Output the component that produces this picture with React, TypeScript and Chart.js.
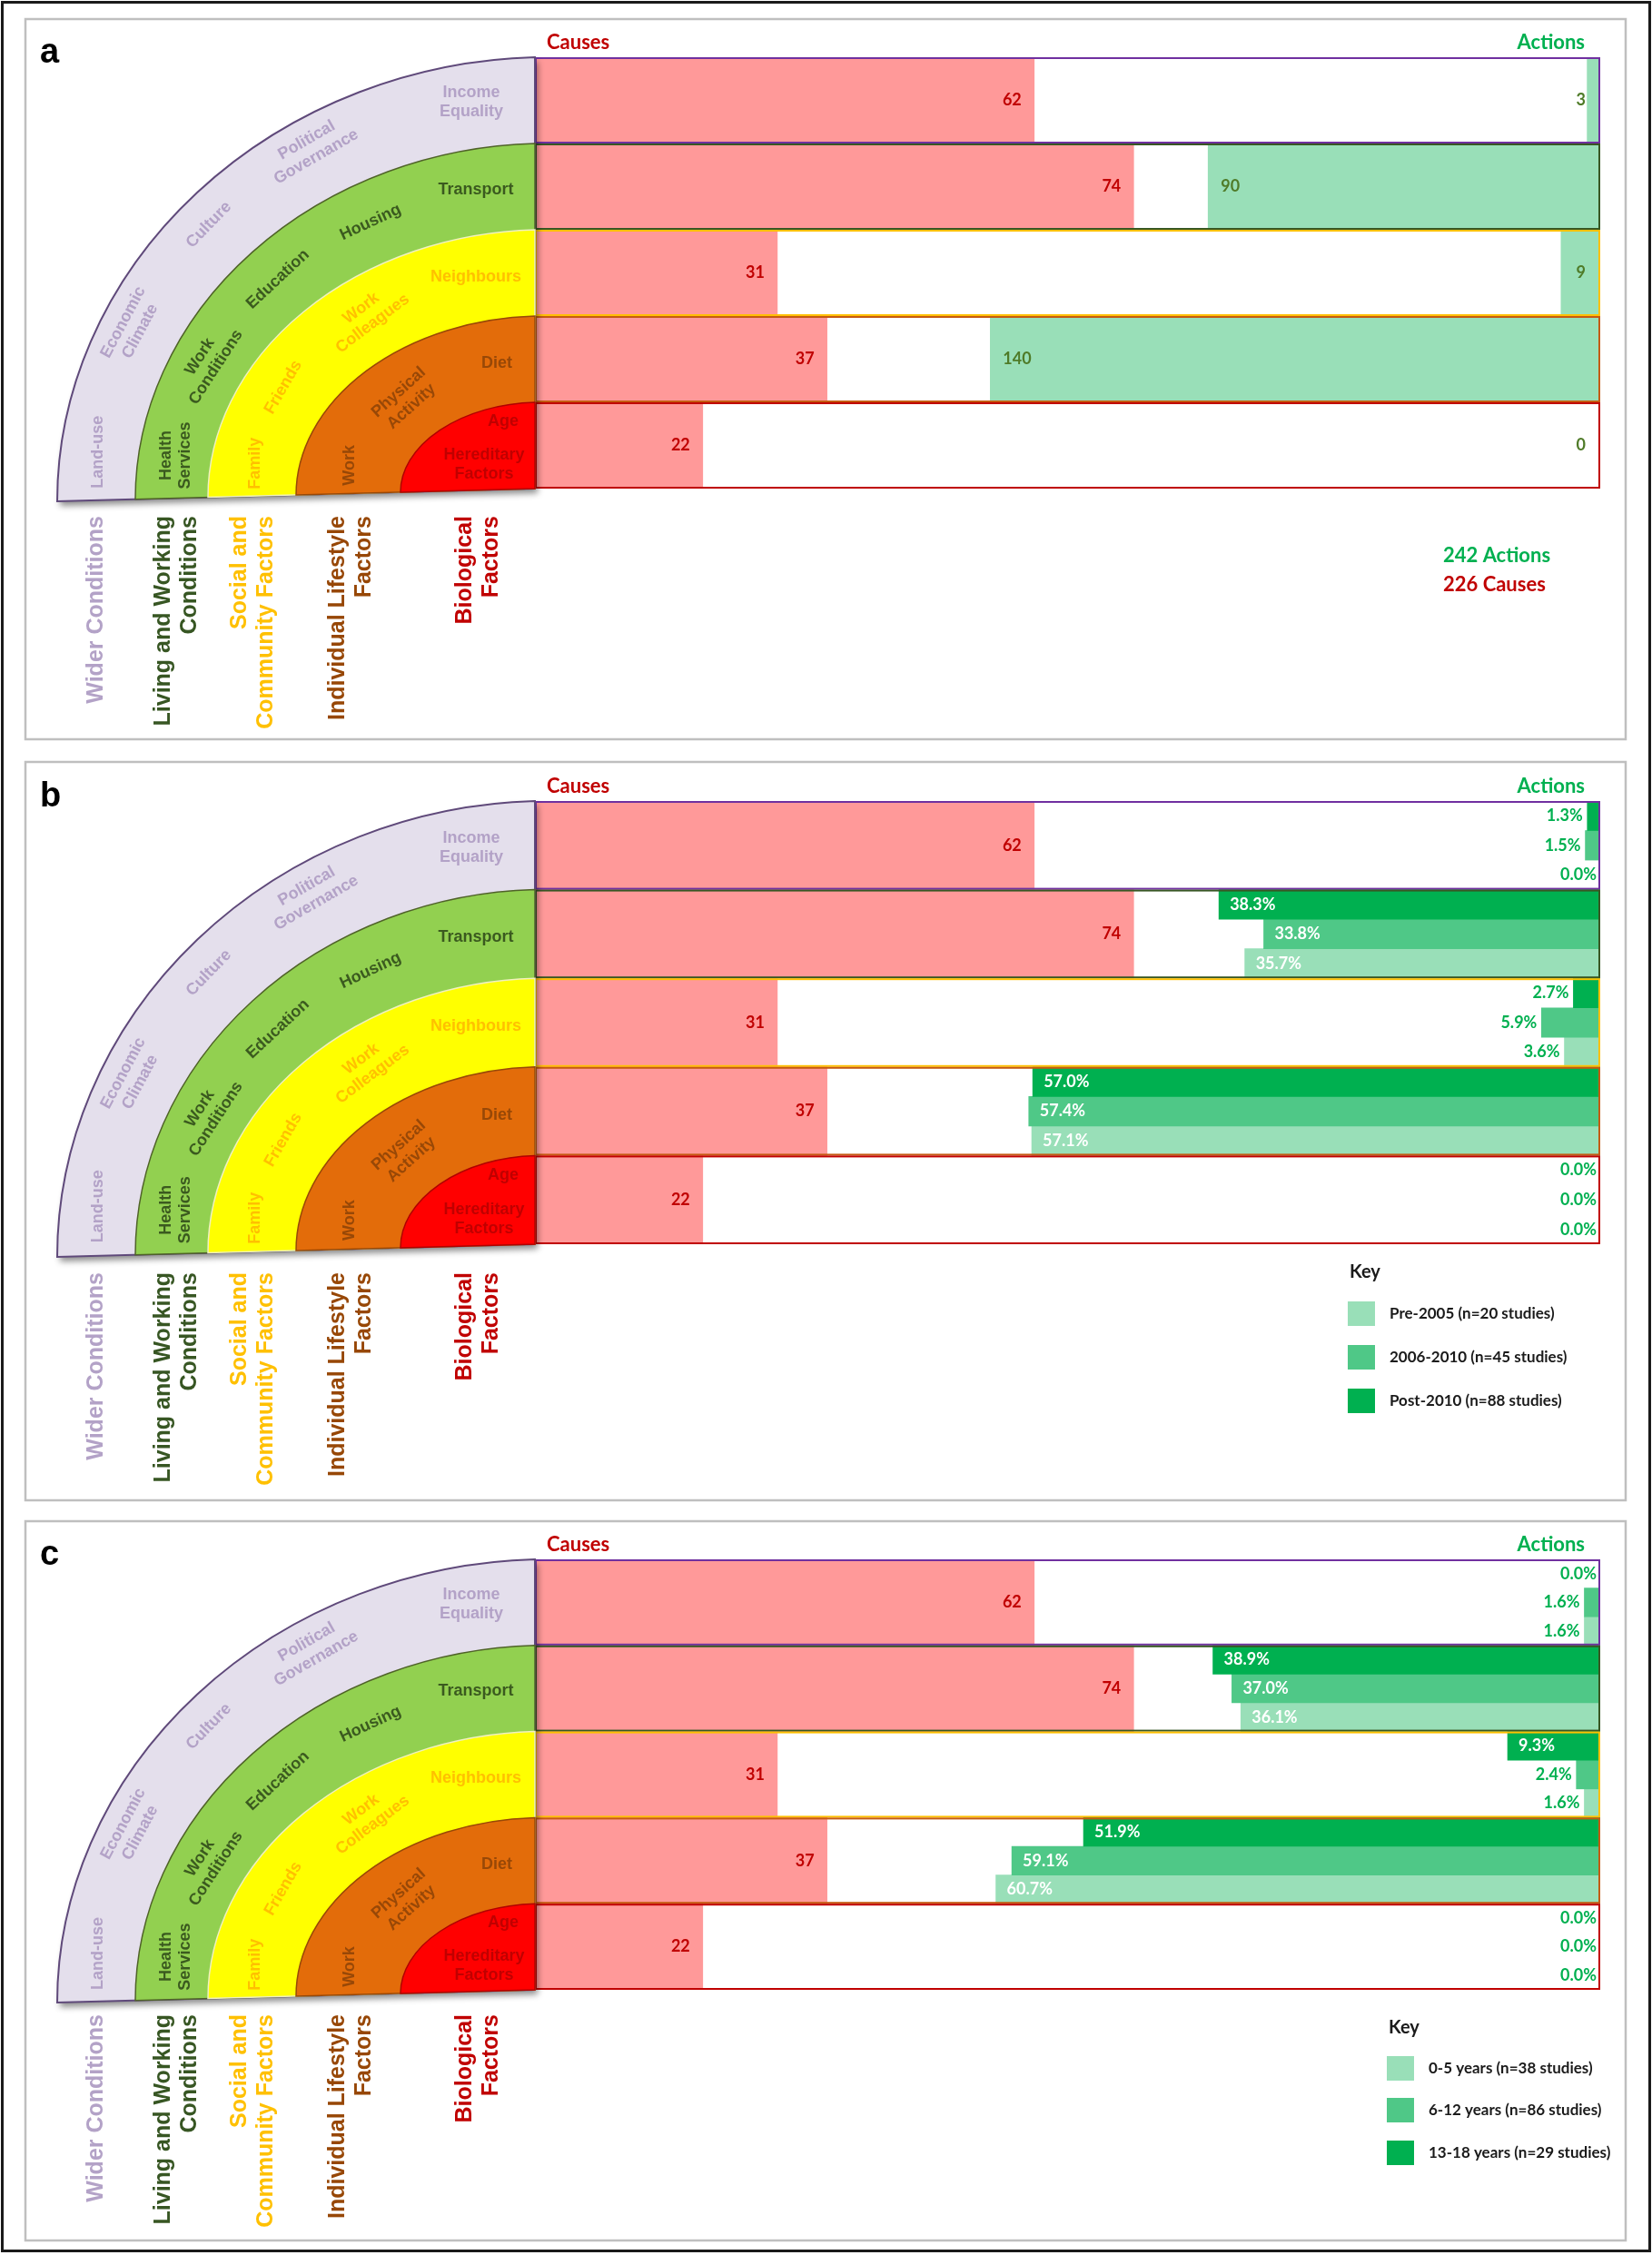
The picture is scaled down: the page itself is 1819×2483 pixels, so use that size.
import React, { useEffect, useRef } from 'react';
import { Chart, registerables } from 'chart.js';

Chart.register(...registerables);

// ---------------- data ----------------
const factorRows = ['Income Equality', 'Transport', 'Neighbours', 'Diet', 'Age / Hereditary Factors'];
const causesCounts = [62, 74, 31, 37, 22];
const actionsCounts = [3, 90, 9, 140, 0];

// panel b: share of actions by publication period (top bar -> bottom bar)
const post2010Pct = [1.3, 38.3, 2.7, 57.0, 0.0];
const y2006to2010Pct = [1.5, 33.8, 5.9, 57.4, 0.0];
const pre2005Pct = [0.0, 35.7, 3.6, 57.1, 0.0];
const periodKeyLabels = ['Pre-2005 (n=20 studies)', '2006-2010 (n=45 studies)', 'Post-2010 (n=88 studies)'];

// panel c: share of actions by age group (top bar -> bottom bar)
const age13to18Pct = [0.0, 38.9, 9.3, 51.9, 0.0];
const age6to12Pct = [1.6, 37.0, 2.4, 59.1, 0.0];
const age0to5Pct = [1.6, 36.1, 1.6, 60.7, 0.0];
const ageKeyLabels = ['0-5 years (n=38 studies)', '6-12 years (n=86 studies)', '13-18 years (n=29 studies)'];

const causesAxisMin = 1.75;
const causesAxisMax = 130.3;
const actionsCountAxisMax = 244.5;
const actionsPctAxisMax = 107;

const layerLabelLines = [
  ['Wider Conditions'],
  ['Living and Working', 'Conditions'],
  ['Social and', 'Community Factors'],
  ['Individual Lifestyle', 'Factors'],
  ['Biological', 'Factors'],
];
const layerLabelX = [106, 180, 264, 372, 512];

const ringTexts = [
  { layer: 0, lines: ['Income', 'Equality'], x: 519, h: 427, a: 0 },
  { layer: 0, lines: ['Political', 'Governance'], x: 343, h: 381, a: -30 },
  { layer: 0, lines: ['Culture'], x: 230, h: 300, a: -46 },
  { layer: 0, lines: ['Economic', 'Climate'], x: 145, h: 190, a: -62 },
  { layer: 0, lines: ['Land-use'], x: 108, h: 53, a: -90 },
  { layer: 1, lines: ['Transport'], x: 524, h: 331, a: 0 },
  { layer: 1, lines: ['Housing'], x: 408, h: 298, a: -25 },
  { layer: 1, lines: ['Education'], x: 306, h: 238, a: -43 },
  { layer: 1, lines: ['Work', 'Conditions'], x: 229, h: 149, a: -57 },
  { layer: 1, lines: ['Health', 'Services'], x: 194, h: 47, a: -90 },
  { layer: 2, lines: ['Neighbours'], x: 524, h: 235, a: 0 },
  { layer: 2, lines: ['Work', 'Colleagues'], x: 404, h: 195, a: -37 },
  { layer: 2, lines: ['Friends'], x: 312, h: 119, a: -60 },
  { layer: 2, lines: ['Family'], x: 281, h: 36, a: -90 },
  { layer: 3, lines: ['Diet'], x: 547, h: 139, a: 0 },
  { layer: 3, lines: ['Physical', 'Activity'], x: 446, h: 102, a: -42 },
  { layer: 3, lines: ['Work'], x: 385, h: 31, a: -90 },
  { layer: 4, lines: ['Age'], x: 554, h: 75, a: 0 },
  { layer: 4, lines: ['Hereditary', 'Factors'], x: 533, h: 28, a: 0 },
];

// ---------------- styles ----------------
const PAGE_W = 1819;
const PAGE_H = 2483;
const CAUSE_COLOR = '#ff9999';
const ACT_DARK = '#00b050';
const ACT_MID = '#4fc887';
const ACT_LIGHT = '#99dfb8';
const ROW_FRAME = ['#7030a0', '#385723', '#ffc000', '#c55a11', '#c00000'];
const RING_RX = [526, 440, 360, 263, 148];
const RING_FILL = ['#e4dfec', '#92d050', '#ffff00', '#e36c0a', '#ff0000'];
const RING_STROKE = ['#5f497a', '#4f6228', '#f0f0c0', '#984807', '#b00000'];
const RING_TEXT = ['#b3a2c7', '#3b5a1f', '#ffc000', '#984807', '#c00000'];
const LAYER_LABEL_COLOR = ['#b3a2c7', '#375623', '#ffc000', '#974706', '#c00000'];
const SHEAR = 14 / 526;
const ARIAL = "'Liberation Sans', Arial, sans-serif";
const CAL = "Lato, 'Open Sans', sans-serif";

type Panel = {
  id: string;
  canvasTop: number;
  canvasH: number;
  box: number[];
  rowsTop: number;
  rowsBottom: number;
  mode: 'counts' | 'split';
  splits?: number[][];
  splitNames?: string[];
  keyLabels?: string[];
  keyX?: number;
  keyTitleY?: number;
  keyTops?: number[];
  labelGap: number;
};

const PANELS: Panel[] = [
  { id: 'a', canvasTop: 0, canvasH: 826, box: [28, 21, 1790, 814], rowsTop: 63, rowsBottom: 538, mode: 'counts', labelGap: 30 },
  {
    id: 'b', canvasTop: 826, canvasH: 837, box: [28, 839, 1790, 1652], rowsTop: 882, rowsBottom: 1370, mode: 'split',
    splits: [post2010Pct, y2006to2010Pct, pre2005Pct], splitNames: ['Post-2010', '2006-2010', 'Pre-2005'],
    keyLabels: periodKeyLabels, keyX: 1484, keyTitleY: 1401, keyTops: [1433, 1481, 1529], labelGap: 31,
  },
  {
    id: 'c', canvasTop: 1663, canvasH: 820, box: [28, 1675, 1790, 2467], rowsTop: 1717, rowsBottom: 2191, mode: 'split',
    splits: [age13to18Pct, age6to12Pct, age0to5Pct], splitNames: ['13-18 years', '6-12 years', '0-5 years'],
    keyLabels: ageKeyLabels, keyX: 1527, keyTitleY: 2233, keyTops: [2264, 2310, 2357], labelGap: 27,
  },
];

const SPLIT_COLORS = [ACT_DARK, ACT_MID, ACT_LIGHT];

function toSlots(vals: number[], slot: number): (number | null)[] {
  const out: (number | null)[] = [];
  vals.forEach((v) => {
    for (let j = 0; j < 3; j++) out.push(j === slot ? v : null);
  });
  return out;
}

function drawLines(ctx: CanvasRenderingContext2D, lines: string[], x: number, y: number, angle: number, color: string, font: string, lh: number, align: CanvasTextAlign = 'center') {
  ctx.save();
  ctx.translate(x, y);
  ctx.rotate((angle * Math.PI) / 180);
  ctx.fillStyle = color;
  ctx.font = font;
  ctx.textAlign = align;
  ctx.textBaseline = 'middle';
  const n = lines.length;
  lines.forEach((l, i) => ctx.fillText(l, 0, (i - (n - 1) / 2) * lh));
  ctx.restore();
}

function buildChart(canvas: HTMLCanvasElement, p: Panel): Chart {
  const off = p.canvasTop;
  const datasets: any[] = [
    {
      label: 'Causes', data: causesCounts, xAxisID: 'xc', yAxisID: 'yc', backgroundColor: CAUSE_COLOR,
      grouped: false, barPercentage: 1, categoryPercentage: 1, borderWidth: 0,
    },
  ];
  if (p.mode === 'counts') {
    datasets.push({
      label: 'Actions', data: actionsCounts, xAxisID: 'xa', yAxisID: 'yc', backgroundColor: ACT_LIGHT,
      grouped: false, barPercentage: 1, categoryPercentage: 1, borderWidth: 0,
    });
  } else {
    (p.splits as number[][]).forEach((vals, slot) => {
      datasets.push({
        label: (p.splitNames as string[])[slot], data: toSlots(vals, slot), xAxisID: 'xa', yAxisID: 'ya',
        backgroundColor: SPLIT_COLORS[slot], grouped: false, barPercentage: 1, categoryPercentage: 1, borderWidth: 0,
      });
    });
  }
  const slotLabels: string[] = [];
  factorRows.forEach((r) => [0, 1, 2].forEach((j) => slotLabels.push(`${r} ${j}`)));

  const decor = {
    id: 'decor',
    afterDatasetsDraw(chart: any) {
      const ctx: CanvasRenderingContext2D = chart.ctx;
      const { left, right, top, bottom } = chart.chartArea;
      const H = bottom - top;
      const rowH = H / factorRows.length;

      // panel frame
      ctx.save();
      ctx.strokeStyle = '#bfbfbf';
      ctx.lineWidth = 2.5;
      ctx.strokeRect(p.box[0], p.box[1] - off, p.box[2] - p.box[0], p.box[3] - p.box[1]);
      ctx.restore();

      // row frames
      ctx.save();
      ctx.lineWidth = 2;
      ROW_FRAME.forEach((c, i) => {
        ctx.strokeStyle = c;
        ctx.strokeRect(left + 1, top + i * rowH + 1, right - left - 2, rowH - 2);
      });
      ctx.restore();

      // rainbow
      const cx = left;
      const by = bottom;
      ctx.save();
      ctx.transform(1, -SHEAR, 0, 1, 0, SHEAR * cx);
      RING_RX.forEach((rx, i) => {
        const ry = (H * (5 - i)) / 5;
        ctx.beginPath();
        ctx.moveTo(cx, by);
        ctx.lineTo(cx - rx, by);
        ctx.ellipse(cx, by, rx, ry, 0, Math.PI, Math.PI * 1.5);
        ctx.closePath();
        if (i === 0) {
          ctx.save();
          ctx.shadowColor = 'rgba(0,0,0,0.45)';
          ctx.shadowBlur = 7;
          ctx.shadowOffsetX = 3;
          ctx.shadowOffsetY = 5;
          ctx.fillStyle = RING_FILL[i];
          ctx.fill();
          ctx.restore();
        } else {
          ctx.fillStyle = RING_FILL[i];
          ctx.fill();
        }
        ctx.strokeStyle = RING_STROKE[i];
        ctx.lineWidth = i === 0 ? 2 : 1.5;
        ctx.stroke();
      });
      ctx.restore();

      const vs = H / 475;
      ringTexts.forEach((t) => {
        const x = cx - (589 - t.x);
        const y = by + SHEAR * (cx - x) - t.h * vs;
        drawLines(ctx, t.lines, x, y, t.a, RING_TEXT[t.layer], `bold 18px ${ARIAL}`, 21);
      });

      // layer labels below the rainbow
      const yTop = p.rowsBottom + p.labelGap - off;
      layerLabelLines.forEach((lines, i) => {
        lines.forEach((l, j) => {
          drawLines(ctx, [l], layerLabelX[i] + j * 29, yTop, -90, LAYER_LABEL_COLOR[i], `bold 25px ${ARIAL}`, 29, 'right');
        });
      });

      // panel letter
      ctx.save();
      ctx.fillStyle = '#000';
      ctx.font = `bold 38px ${ARIAL}`;
      ctx.textAlign = 'left';
      ctx.textBaseline = 'alphabetic';
      ctx.fillText(p.id, 44, top + 6);
      ctx.restore();

      // headers
      ctx.save();
      ctx.font = `bold 22px ${CAL}`;
      ctx.textBaseline = 'middle';
      ctx.fillStyle = '#c00000';
      ctx.textAlign = 'left';
      ctx.fillText('Causes', left + 13, top - 16);
      ctx.fillStyle = ACT_DARK;
      ctx.textAlign = 'right';
      ctx.fillText('Actions', right - 17, top - 16);
      ctx.restore();

      // value labels
      ctx.save();
      ctx.font = `bold 18px ${CAL}`;
      ctx.textBaseline = 'middle';
      chart.data.datasets.forEach((ds: any, di: number) => {
        const meta = chart.getDatasetMeta(di);
        meta.data.forEach((el: any, i: number) => {
          const v = ds.data[i];
          if (v === null || v === undefined) return;
          if (di === 0) {
            ctx.fillStyle = '#c00000';
            ctx.textAlign = 'right';
            ctx.fillText(String(v), el.x - 14, el.y);
            return;
          }
          const barLeft = Math.min(el.x, el.base);
          const w = Math.abs(el.base - el.x);
          if (p.mode === 'counts') {
            ctx.fillStyle = '#4f7b28';
            if (w > 60) {
              ctx.textAlign = 'left';
              ctx.fillText(String(v), barLeft + 14, el.y);
            } else {
              ctx.textAlign = 'right';
              ctx.fillText(String(v), right - 16, el.y);
            }
          } else {
            const txt = `${Number(v).toFixed(1)}%`;
            if (w > 80) {
              ctx.fillStyle = '#ffffff';
              ctx.textAlign = 'left';
              ctx.fillText(txt, barLeft + 12, el.y);
            } else {
              ctx.fillStyle = ACT_DARK;
              ctx.textAlign = 'right';
              ctx.fillText(txt, v === 0 ? right - 4 : barLeft - 5, el.y);
            }
          }
        });
      });
      ctx.restore();

      // totals / key
      if (p.mode === 'counts') {
        const totA = actionsCounts.reduce((s, v) => s + v, 0);
        const totC = causesCounts.reduce((s, v) => s + v, 0);
        ctx.save();
        ctx.font = `bold 22px ${CAL}`;
        ctx.textBaseline = 'middle';
        ctx.textAlign = 'left';
        ctx.fillStyle = ACT_DARK;
        ctx.fillText(`${totA} Actions`, 1589, bottom + 74);
        ctx.fillStyle = '#c00000';
        ctx.fillText(`${totC} Causes`, 1589, bottom + 106);
        ctx.restore();
      } else {
        const kx = p.keyX as number;
        ctx.save();
        ctx.textBaseline = 'middle';
        ctx.textAlign = 'left';
        ctx.fillStyle = '#1a1a1a';
        ctx.font = `bold 20px ${CAL}`;
        ctx.fillText('Key', kx + 2, (p.keyTitleY as number) - off);
        ctx.font = `bold 17px ${CAL}`;
        const keyColors = [...SPLIT_COLORS].reverse();
        (p.keyLabels as string[]).forEach((lab, i) => {
          const t = (p.keyTops as number[])[i] - off;
          ctx.fillStyle = keyColors[i];
          ctx.fillRect(kx, t, 30, 27);
          ctx.fillStyle = '#1a1a1a';
          ctx.fillText(lab, kx + 46, t + 13.5);
        });
        ctx.restore();
      }
    },
  };

  return new Chart(canvas, {
    type: 'bar',
    data: { labels: factorRows, datasets },
    options: {
      indexAxis: 'y',
      responsive: false,
      animation: false,
      devicePixelRatio: 1,
      layout: {
        padding: {
          left: 589,
          right: PAGE_W - 1762,
          top: p.rowsTop - off,
          bottom: off + p.canvasH - p.rowsBottom,
        },
      },
      plugins: { legend: { display: false }, tooltip: { enabled: false }, title: { display: false } },
      scales: {
        yc: { type: 'category', axis: 'y', labels: factorRows, offset: true, display: false },
        ya: { type: 'category', axis: 'y', labels: slotLabels, offset: true, display: false },
        xc: { type: 'linear', axis: 'x', min: causesAxisMin, max: causesAxisMax, display: false },
        xa: {
          type: 'linear', axis: 'x', min: 0, max: p.mode === 'counts' ? actionsCountAxisMax : actionsPctAxisMax,
          reverse: true, display: false,
        },
      },
    } as any,
    plugins: [decor],
  });
}

export default function App() {
  const refs = useRef<(HTMLCanvasElement | null)[]>([]);
  useEffect(() => {
    const charts = PANELS.map((p, i) => buildChart(refs.current[i] as HTMLCanvasElement, p));
    return () => charts.forEach((c) => c.destroy());
  }, []);
  return (
    <div style={{ position: 'absolute', left: 0, top: 0, width: PAGE_W, height: PAGE_H, background: '#fff', overflow: 'hidden' }}>
      <div style={{ position: 'absolute', left: 1, top: 1, width: 1817, height: 2479, border: '3px solid #1a1a1a', boxSizing: 'border-box' }} />
      {PANELS.map((p, i) => (
        <canvas
          key={p.id}
          ref={(el) => { refs.current[i] = el; }}
          width={PAGE_W}
          height={p.canvasH}
          style={{ position: 'absolute', left: 0, top: p.canvasTop, width: PAGE_W, height: p.canvasH }}
        />
      ))}
    </div>
  );
}
